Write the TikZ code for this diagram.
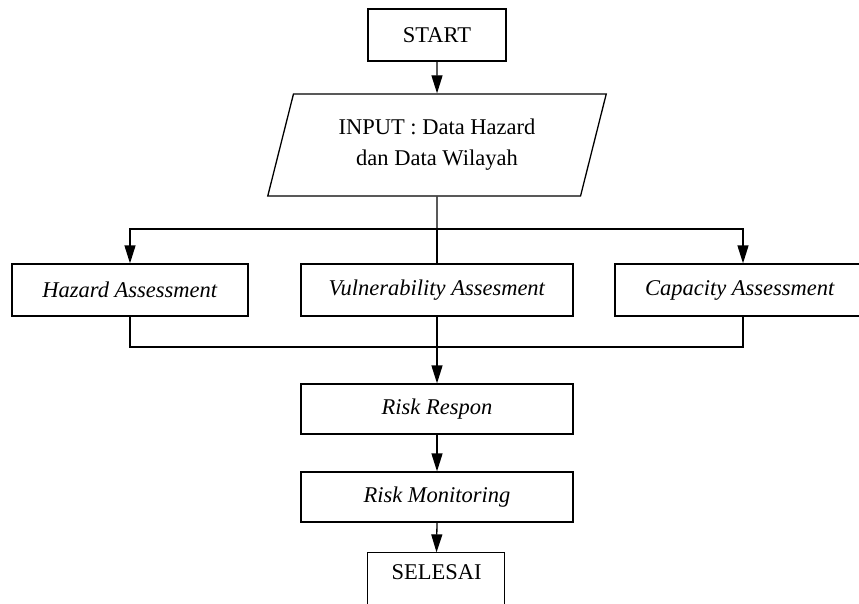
\documentclass[tikz,border=0pt]{standalone}
\usepackage{fontspec}
\setmainfont{Liberation Serif}
\usetikzlibrary{arrows.meta,shapes.geometric}
\begin{document}
\begin{tikzpicture}[x=1pt,y=-1pt,line width=1.3pt,
  every node/.style={font=\fontsize{22.5}{31}\selectfont},
  box/.style={draw,rectangle,inner sep=0pt,minimum height=52pt},
  arr/.style={-{Triangle[length=18pt,width=11pt]}}]
\useasboundingbox (0,0) rectangle (859,604);
\clip (0,0) rectangle (859,604);
\node[box,minimum width=138pt] (start) at (437,35) {START};
\node[draw,trapezium,trapezium left angle=71.1,trapezium right angle=108.9,
  trapezium stretches=true,minimum width=339pt,minimum height=102pt,inner sep=0pt,
  align=center] (inp) at (437,145) {INPUT : Data Hazard\\dan Data Wilayah};
\node[box,minimum width=236pt] (haz) at (130,290) {\textit{Hazard Assessment}};
\node[box,minimum width=272pt] (vul) at (437,290) {\textit{Vulnerability Assesment}};
\node[box,minimum width=250pt] (cap) at (740,290) {\textit{Capacity Assessment}};
\node[box,minimum width=272pt,minimum height=50pt] (resp) at (437,409) {\textit{Risk Respon}};
\node[box,minimum width=272pt,minimum height=50pt] (mon) at (437,497) {\textit{Risk Monitoring}};
\node[inner sep=0pt,minimum width=137pt,minimum height=38pt] (sel) at (436.5,572) {SELESAI};
\draw (sel.north west) rectangle ++(137,60);
\coordinate (j1) at (437,229);
\coordinate (j2) at (437,347);
\draw[arr] (start.south) -- (inp.north);
\draw (inp.south) -- (j1);
\draw[arr] (j1) -| (haz.north);
\draw[arr] (j1) -| ([xshift=3pt]cap.north);
\draw (j1) -- (vul.north);
\draw (haz.south) |- (j2);
\draw ([xshift=3pt]cap.south) |- (j2);
\draw (vul.south) -- (j2);
\draw[arr] (j2) -- (resp.north);
\draw[arr] (resp.south) -- (mon.north);
\draw[arr] (mon.south) -- (sel.north);
\end{tikzpicture}
\end{document}
